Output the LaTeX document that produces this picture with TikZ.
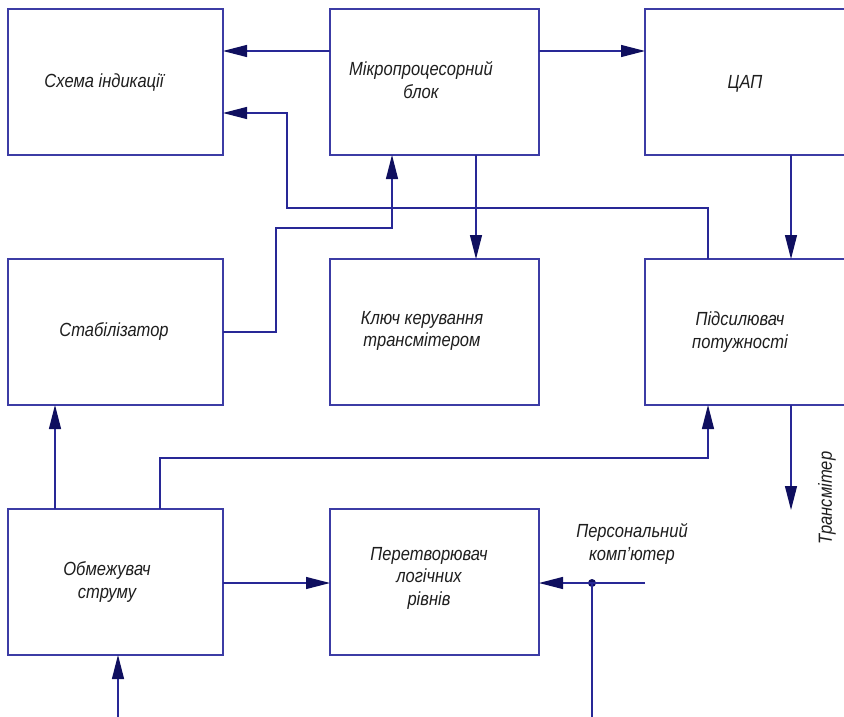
\documentclass[tikz,border=0pt]{standalone}
\usepackage{fontspec}
\setmainfont{Liberation Sans}[FakeStretch=0.87]
\usetikzlibrary{arrows.meta}
\definecolor{boxc}{RGB}{60,60,165}
\definecolor{linec}{RGB}{40,40,150}
\definecolor{tipc}{RGB}{15,15,95}
\definecolor{txt}{RGB}{30,30,30}
\begin{document}
\begin{tikzpicture}[x=1pt,y=-1pt,
 box/.style={draw=boxc, line width=1.3pt, inner sep=0pt, outer sep=0pt, anchor=north west, minimum height=146pt},
 lbl/.style={font=\fontsize{19}{22.5}\selectfont\itshape, text=txt, align=center, inner sep=0pt},
 conn/.style={draw=linec, line width=1.2pt},
 arr/.style={conn, -{Triangle[length=24pt,width=12pt,color=tipc]}},
]
\useasboundingbox (0,0) rectangle (844,717);
\fill[white] (0,0) rectangle (844,717);
\clip (0,0) rectangle (844,717);
% boxes
\node[box, minimum width=215pt] (si) at (8,9) {};
\node[box, minimum width=209pt] (mp) at (330,9) {};
\node[box, minimum width=230pt] (cap) at (645,9) {};
\node[box, minimum width=215pt] (st) at (8,259) {};
\node[box, minimum width=209pt] (kl) at (330,259) {};
\node[box, minimum width=230pt] (pp) at (645,259) {};
\node[box, minimum width=215pt] (ob) at (8,509) {};
\node[box, minimum width=209pt] (pr) at (330,509) {};
% labels
\node[lbl] (tsi) at (104,83) {Схема індикації};
\node[lbl] (tmp) at (421,80) {Мікропроцесорний\\блок};
\node[lbl] (tcap) at (745,84) {ЦАП};
\node[lbl] (tst) at (114,332) {Стабілізатор};
\node[lbl] (tkl) at (422,331) {Ключ керування\\трансмітером};
\node[lbl] (tpp) at (740,332) {Підсилювач\\потужності};
\node[lbl] (tob) at (107,582) {Обмежувач\\струму};
\node[lbl] (tpr) at (429,578) {Перетворювач\\логічних\\рівнів};
\node[lbl] (tpc) at (632,544) {Персональний\\комп'ютер};
\node[lbl, rotate=90] (ttx) at (827,498) {Трансмітер};
% connectors
\draw[arr] (mp.west |- 0,51) -- (si.east |- 0,51);
\draw[arr] (mp.east |- 0,51) -- (cap.west |- 0,51);
\draw[arr] (pp.north -| 708,0) |- (287,208) |- (si.east |- 0,113);
\draw[arr] (st.east |- 0,332) -| (276,228) -| (mp.south -| 392,0);
\draw[arr] (mp.south -| 476,0) -- (kl.north -| 476,0);
\draw[arr] (cap.south -| 791,0) -- (pp.north -| 791,0);
\draw[arr] (ob.north -| 55,0) -- (st.south -| 55,0);
\draw[arr] (ob.north -| 160,0) |- (708,458) -- (pp.south -| 708,0);
\coordinate (tx) at (791,510);
\draw[arr] (pp.south -| 791,0) -- (tx);
\draw[arr] (ob.east |- 0,583) -- (pr.west |- 0,583);
\coordinate (pcin) at (645,583);
\node[circle, fill=tipc, inner sep=0pt, minimum size=8pt] (dot) at (592,583) {};
\draw[arr] (pcin) -- (pr.east |- 0,583);
\draw[arr] (dot.center) -- (592,730) -| (ob.south -| 118,0);
\end{tikzpicture}
\end{document}
